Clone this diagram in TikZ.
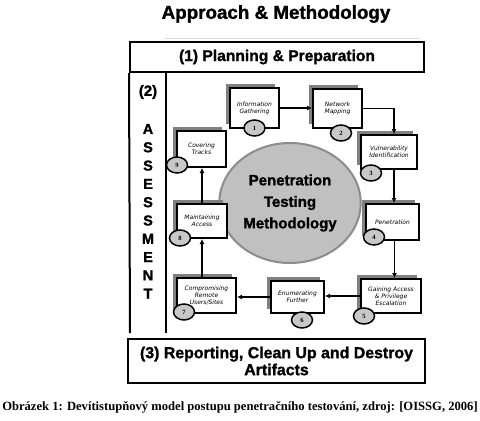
\documentclass[tikz,border=0pt]{standalone}
\usepackage{fontspec}
\setmainfont{Liberation Sans}
\newfontfamily\heavyfont{Liberation Sans}[BoldFeatures={FakeBold=1.3}]
\newfontfamily\boxfont{DejaVu Sans}
\newfontfamily\capfont{Liberation Serif}
\usetikzlibrary{arrows.meta,positioning,shapes.geometric,shadows}
\definecolor{CoreGray}{RGB}{192,192,192}
\definecolor{CoreEdge}{RGB}{140,140,140}
\definecolor{ShadowGray}{RGB}{128,128,128}
\definecolor{TagGray}{RGB}{200,200,200}

\begin{document}
\begin{tikzpicture}[x=1pt,y=-1pt,>={Latex[length=5pt,width=5pt]},
  frame/.style={draw,line width=2pt,inner sep=0pt},
  stepbox/.style={draw,line width=2pt,fill=white,align=center,inner sep=1pt,
    font=\boxfont\itshape\fontsize{6}{7}\selectfont,
    drop shadow={shadow xshift=-4pt,shadow yshift=4pt,fill=ShadowGray,opacity=1}},
  numtag/.style={ellipse,draw,line width=1.5pt,fill=TagGray,minimum width=21pt,
    minimum height=16pt,inner sep=0pt,font=\capfont\bfseries\fontsize{6.5}{6.5}\selectfont},
  flow/.style={->,line width=1.6pt}]
  \useasboundingbox (0,0) rectangle (480,421);

  \node[font=\heavyfont\bfseries\fontsize{18.8}{20}\selectfont] (title) at (276,14) {Approach \& Methodology};
  \draw[black!15,line width=1pt] (165,38) -- (420,38);

  % phases
  \node[frame,minimum width=294pt,minimum height=30pt,
    font=\heavyfont\bfseries\fontsize{15.6}{17}\selectfont] (plan) at (277,57) {(1) Planning \& Preparation};
  \draw[line width=2pt] (plan.south west) -- (130,333);
  \draw[line width=2pt] (166,72) -- (166,333);
  \node[font=\heavyfont\bfseries\fontsize{15}{15}\selectfont] (phase2) at (148,92) {(2)};
  \foreach \ch [count=\i from 0] in {A,S,S,E,S,S,M,E,N,T}
    \node[font=\heavyfont\bfseries\fontsize{14.5}{14}\selectfont] (let\i) at (148,{129+18.3*\i}) {\ch};
  \node[frame,minimum width=297pt,minimum height=44pt,align=center,
    font=\heavyfont\bfseries\fontsize{15.9}{17}\selectfont] (report) at (276.5,361)
    {(3) Reporting, Clean Up and Destroy\\Artifacts};

  \node[ellipse,draw=CoreEdge,line width=2pt,fill=CoreGray,minimum width=136pt,
    minimum height=120pt,align=center,font=\heavyfont\bfseries\fontsize{15}{21.5}\selectfont]
    (core) at (290,203) {Penetration\\Testing\\Methodology};

  % steps
  \node[stepbox,minimum width=49pt,minimum height=40pt] (info) at (254.5,108) {Information\\Gathering};
  \node[stepbox,minimum width=49pt,minimum height=39pt] (net) at (337.5,108.5) {Network\\Mapping};
  \node[stepbox,minimum width=56pt,minimum height=34pt] (vul) at (389,152) {Vulnerability\\Identification};
  \node[stepbox,minimum width=53pt,minimum height=36pt] (pen) at (392.5,222) {Penetration};
  \node[stepbox,minimum width=60pt,minimum height=34pt] (gain) at (391,296) {Gaining Access\\\& Privilege\\Escalation};
  \node[stepbox,minimum width=53pt,minimum height=32pt] (enum) at (297.5,297) {Enumerating\\Further};
  \node[stepbox,minimum width=59pt,minimum height=35pt] (comp) at (206.5,295.5) {Compromising\\Remote\\Users/Sites};
  \node[stepbox,minimum width=50pt,minimum height=34pt] (maint) at (202,221) {Maintaining\\Access};
  \node[stepbox,minimum width=49pt,minimum height=36pt] (cover) at (201.5,149) {Covering\\Tracks};

  \node[numtag] (n1) at ([yshift=1pt]info.south) {1};
  \node[numtag] (n2) at ([xshift=3.5pt,yshift=-4pt]net.south) {2};
  \node[numtag] (n3) at ([xshift=11pt,yshift=-3pt]vul.south west) {3};
  \node[numtag] (n4) at ([xshift=9pt,yshift=4pt]pen.south west) {4};
  \node[numtag] (n5) at ([xshift=4pt,yshift=-2pt]gain.south west) {5};
  \node[numtag] (n6) at ([xshift=4.5pt,yshift=-6pt]enum.south) {6};
  \node[numtag] (n7) at ([xshift=8pt,yshift=2pt]comp.south west) {7};
  \node[numtag] (n8) at ([xshift=4pt,yshift=1pt]maint.south west) {8};
  \node[numtag] (n9) at ([xshift=1pt,yshift=3pt]cover.south west) {9};

  \draw[flow] (info.east) -- (info.east -| net.west);
  \draw[flow] (net.east) -| ([xshift=5pt]vul.north);
  \draw[flow] ([xshift=5pt]vul.south) -- ([xshift=5pt]vul.south |- pen.north);
  \draw[flow] ([xshift=2pt]pen.south) -- ([xshift=2pt]pen.south |- gain.north);
  \draw[flow] (gain.west) -- (gain.west -| enum.east);
  \draw[flow] (enum.west) -- (enum.west -| comp.east);
  \draw[flow] (maint.south |- comp.north) -- (maint.south);
  \draw[flow] (maint.north) -- (maint.north |- cover.south);

  \node[font=\capfont\bfseries\fontsize{12.6}{13}\selectfont] (caption) at (240,407)
    {Obrázek 1: Devítistupňový model postupu penetračního testování, zdroj: [OISSG, 2006]};
\end{tikzpicture}
\end{document}
